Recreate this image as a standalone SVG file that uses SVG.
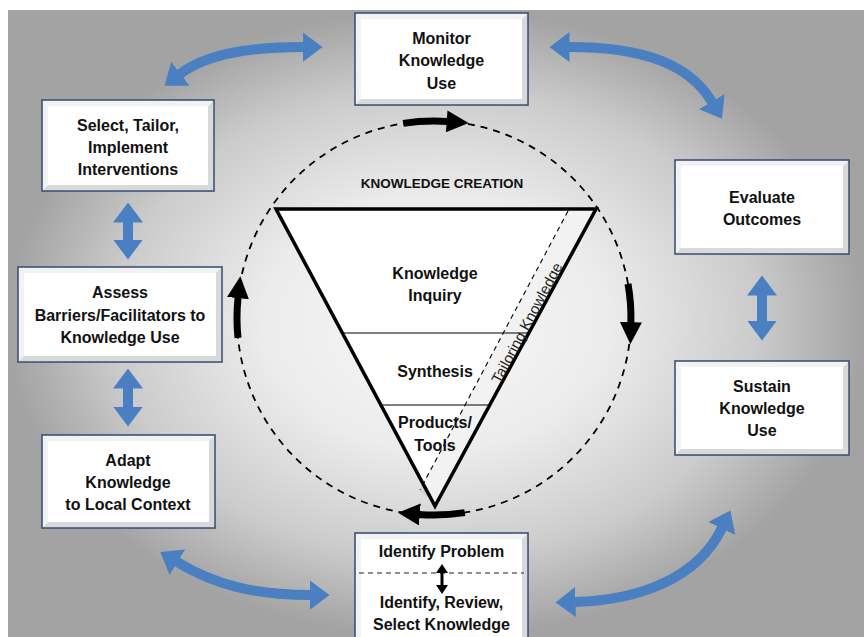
<svg xmlns="http://www.w3.org/2000/svg" width="864" height="637" viewBox="0 0 864 637">
<defs>
<radialGradient id="bg" cx="0.5" cy="0.5" r="0.5">
<stop offset="0" stop-color="#f7f7f7"/>
<stop offset="0.4" stop-color="#ececec"/>
<stop offset="0.75" stop-color="#cbcbcb"/>
<stop offset="1" stop-color="#a3a3a3"/>
</radialGradient>
<marker id="bh" markerUnits="userSpaceOnUse" viewBox="0 0 22 22" markerWidth="22" markerHeight="22" refX="1" refY="11" orient="auto">
<path d="M0,0 L22,11 L0,22 Z" fill="#000"/>
</marker>
<marker id="uh" markerUnits="userSpaceOnUse" viewBox="0 0 20 30" markerWidth="20" markerHeight="30" refX="0.5" refY="15" orient="auto-start-reverse">
<path d="M0,0 L20,15 L0,30 Z" fill="#4a80c1"/>
</marker>
<style>
.box{fill:#fff;stroke:#3d5073;stroke-width:1.6}
.bl{fill:#f2f2f2}
.bd{fill:#cfcfcf;opacity:0.8}
.t{font-family:"Liberation Sans",Arial,sans-serif;font-weight:bold;font-size:16px;fill:#111;text-anchor:middle}
.blue{fill:none;stroke:#4a80c1;stroke-width:10;marker-start:url(#uh);marker-end:url(#uh)}
.blk{fill:none;stroke:#000;stroke-width:7;marker-end:url(#bh)}
</style>
</defs>
<rect x="0" y="0" width="864" height="637" fill="#fff"/>
<rect x="8" y="10" width="856" height="627" fill="url(#bg)"/>

<g id="knowledge-creation">
<circle cx="434" cy="318" r="197" fill="none" stroke="#000" stroke-width="1.8" stroke-dasharray="7 6"/>
<polygon points="276,209 596,209 435,506" fill="#fff" stroke="#000" stroke-width="3.5" stroke-linejoin="miter"/>
<polygon points="568,211 594,211 436,503 419,491" fill="#000" opacity="0.05"/>
<line x1="342" y1="333" x2="529" y2="333" stroke="#000" stroke-width="1.2"/>
<line x1="380" y1="405" x2="490" y2="405" stroke="#000" stroke-width="1.2"/>
<line x1="568" y1="211" x2="420" y2="490" stroke="#000" stroke-width="1.1" stroke-dasharray="5 4"/>
<text class="t" x="442" y="188" style="font-size:13.5px">KNOWLEDGE CREATION</text>
<text class="t" x="435" y="279">Knowledge</text>
<text class="t" x="435" y="301">Inquiry</text>
<text class="t" x="435" y="377">Synthesis</text>
<text class="t" x="435" y="428">Products/</text>
<text class="t" x="435" y="451">Tools</text>
<text transform="translate(527,323) rotate(-62)" x="0" y="5" style="font-family:'Liberation Sans',Arial,sans-serif;font-size:15px;fill:#222;text-anchor:middle">Tailoring Knowledge</text>
</g>

<g id="monitor">
<rect class="box" x="355" y="13" width="173" height="92"/>
<path class="bl" d="M356,104 L356,14 L527,14 L522,19 L361,19 L361,99 Z"/>
<path class="bd" d="M527,14 L527,104 L356,104 L361,99 L522,99 L522,19 Z"/>
<text class="t" x="441.5" y="44">Monitor</text>
<text class="t" x="441.5" y="66">Knowledge</text>
<text class="t" x="441.5" y="89">Use</text>
</g>

<g id="select">
<rect class="box" x="42" y="100" width="172" height="91"/>
<path class="bl" d="M43,190 L43,101 L213,101 L208,106 L48,106 L48,185 Z"/>
<path class="bd" d="M213,101 L213,190 L43,190 L48,185 L208,185 L208,106 Z"/>
<text class="t" x="128" y="131">Select, Tailor,</text>
<text class="t" x="128" y="153">Implement</text>
<text class="t" x="128" y="175">Interventions</text>
</g>

<g id="assess">
<rect class="box" x="18" y="267" width="204" height="95"/>
<path class="bl" d="M19,361 L19,268 L221,268 L216,273 L24,273 L24,356 Z"/>
<path class="bd" d="M221,268 L221,361 L19,361 L24,356 L216,356 L216,273 Z"/>
<text class="t" x="120" y="298">Assess</text>
<text class="t" x="120" y="321">Barriers/Facilitators to</text>
<text class="t" x="120" y="343">Knowledge Use</text>
</g>

<g id="adapt">
<rect class="box" x="42" y="435" width="173" height="93"/>
<path class="bl" d="M43,527 L43,436 L214,436 L209,441 L48,441 L48,522 Z"/>
<path class="bd" d="M214,436 L214,527 L43,527 L48,522 L209,522 L209,441 Z"/>
<text class="t" x="128" y="466">Adapt</text>
<text class="t" x="128" y="488">Knowledge</text>
<text class="t" x="128" y="510">to Local Context</text>
</g>

<g id="evaluate">
<rect class="box" x="675" y="160" width="174" height="94"/>
<path class="bl" d="M676,253 L676,161 L848,161 L843,166 L681,166 L681,248 Z"/>
<path class="bd" d="M848,161 L848,253 L676,253 L681,248 L843,248 L843,166 Z"/>
<text class="t" x="762" y="203">Evaluate</text>
<text class="t" x="762" y="225">Outcomes</text>
</g>

<g id="sustain">
<rect class="box" x="675" y="361" width="174" height="94"/>
<path class="bl" d="M676,454 L676,362 L848,362 L843,367 L681,367 L681,449 Z"/>
<path class="bd" d="M848,362 L848,454 L676,454 L681,449 L843,449 L843,367 Z"/>
<text class="t" x="762" y="392">Sustain</text>
<text class="t" x="762" y="414">Knowledge</text>
<text class="t" x="762" y="436">Use</text>
</g>

<g id="identify">
<rect class="box" x="355" y="533" width="173" height="112"/>
<path class="bl" d="M356,644 L356,534 L527,534 L522,539 L361,539 L361,639 Z"/>
<path class="bd" d="M527,534 L527,644 L356,644 L361,639 L522,639 L522,539 Z"/>
<text class="t" x="441.5" y="557">Identify Problem</text>
<line x1="359" y1="573" x2="524" y2="573" stroke="#222" stroke-width="1.2" stroke-dasharray="5 4"/>
<polygon points="442,564 448,573 443.5,573 443.5,585 448,585 442,594 436,585 440.5,585 440.5,573 436,573" fill="#000"/>
<text class="t" x="441.5" y="608">Identify, Review,</text>
<text class="t" x="441.5" y="630">Select Knowledge</text>
</g>

<g id="connectors">
<path class="blk" d="M403.2,123.4 A197,197 0 0 1 447.7,121.5"/>
<path class="blk" d="M628,283.8 A197,197 0 0 1 630.9,323.2"/>
<path class="blk" d="M464.8,512.6 A197,197 0 0 1 418.9,514.4"/>
<path class="blk" d="M238,337.9 A197,197 0 0 1 238.1,297.1"/>
<path class="blue" d="M180,74 C205,55 245,47 303,47"/>
<path class="blue" d="M569,47 C645,47 690,65 712,102"/>
<path class="blue" d="M177,562 C215,585 255,595 310,595"/>
<path class="blue" d="M575,602 C640,600 698,578 722,528"/>
<line class="blue" x1="128" y1="222" x2="128" y2="240"/>
<line class="blue" x1="128" y1="388" x2="128" y2="407"/>
<line class="blue" x1="762" y1="295" x2="762" y2="321"/>
</g>
</svg>
